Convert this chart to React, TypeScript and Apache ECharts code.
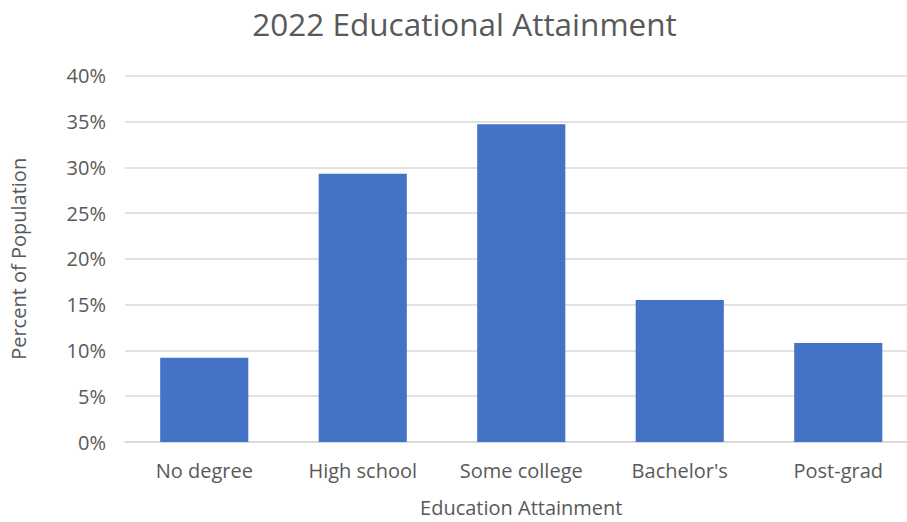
import React, { useEffect, useRef } from "react";
import * as echarts from "echarts";

const categories = ["No degree", "High school", "Some college", "Bachelor's", "Post-grad"];
const percentValues = [9.2, 29.3, 34.7, 15.5, 10.8];
const yTicks = { min: 0, max: 40, interval: 5 };

const FONT = "'Open Sans', Lato, sans-serif";
const TEXT = "#595959";
const CHART_W = 918;
const CHART_H = 522;

export default function App() {
  const ref = useRef<HTMLDivElement>(null);
  useEffect(() => {
    if (!ref.current) return;
    const chart = echarts.init(ref.current, undefined, { renderer: "svg" });
    chart.setOption({
      animation: false,
      backgroundColor: "#ffffff",
      graphic: [
        {
          type: "text",
          x: 464.5,
          y: 23,
          style: {
            text: "2022 Educational Attainment",
            fontFamily: FONT,
            fontSize: 31.5,
            fill: TEXT,
            textAlign: "center",
            textVerticalAlign: "middle",
          },
        },
      ],
      grid: { left: 122.5, right: 0.5, top: 75.7, bottom: 74.7, containLabel: false },
      xAxis: {
        type: "category",
        data: categories,
        name: "Education Attainment",
        nameLocation: "middle",
        nameGap: 55,
        nameTextStyle: { fontFamily: FONT, fontSize: 20, color: TEXT },
        axisLine: { show: true, lineStyle: { color: "#d9d9d9", width: 1.5 } },
        axisTick: { show: false },
        axisLabel: { fontFamily: FONT, fontSize: 20, color: TEXT, margin: 18, interval: 0 },
      },
      yAxis: {
        type: "value",
        min: yTicks.min,
        max: yTicks.max,
        interval: yTicks.interval,
        name: "Percent of Population",
        nameLocation: "middle",
        nameGap: 97,
        nameTextStyle: { fontFamily: FONT, fontSize: 20, color: TEXT },
        axisLine: { show: false },
        axisTick: { show: false },
        axisLabel: { fontFamily: FONT, fontSize: 20, color: TEXT, margin: 19, formatter: "{value}%" },
        splitLine: { lineStyle: { color: "#d9d9d9", width: 1.5 } },
      },
      series: [
        {
          type: "bar",
          data: percentValues,
          barWidth: "55.6%",
          itemStyle: { color: "#4472c4" },
        },
      ],
    });
    return () => chart.dispose();
  }, []);
  return (
    <div style={{ position: "absolute", left: 0, top: 0, width: 907, height: 522, overflow: "hidden", background: "#fff" }}>
      <div ref={ref} style={{ width: CHART_W, height: CHART_H }} />
    </div>
  );
}
